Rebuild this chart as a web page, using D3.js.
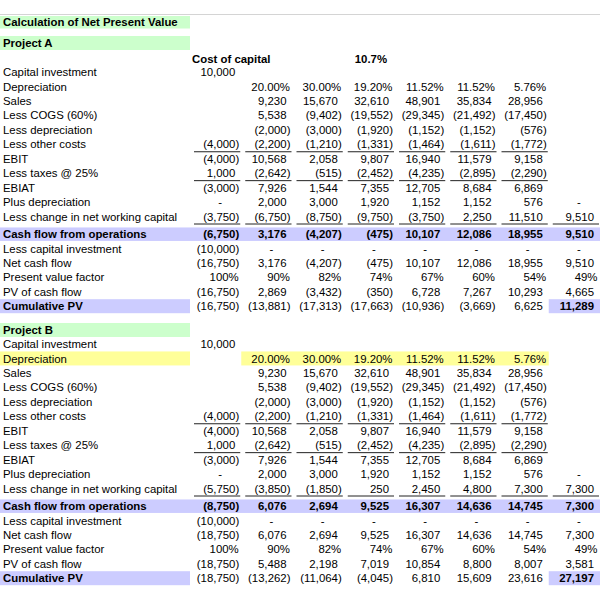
<!DOCTYPE html>
<html>
<head>
<meta charset="utf-8">
<script src="https://cdn.jsdelivr.net/npm/d3@7"></script>
<style>
  html, body { margin: 0; padding: 0; background: #fff; }
  svg text { font-family: "Liberation Sans", Arial, sans-serif; font-size: 11.4px; fill: #000; }
</style>
</head>
<body>
<div id="chart"></div>
<script>
// ---------------- DATA ----------------
const title = "Calculation of Net Present Value";
const projectNames = ["Project A", "Project B"];
const costOfCapitalLabel = "Cost of capital";
const costOfCapital = 0.107;
const columns = [0, 1, 2, 3, 4, 5, 6, 7];

const rowLabels = [
  "Capital investment", "Depreciation", "Sales", "Less COGS (60%)", "Less depreciation",
  "Less other costs", "EBIT", "Less taxes @ 25%", "EBIAT", "Plus depreciation",
  "Less change in net working capital", "Cash flow from operations", "Less capital investment",
  "Net cash flow", "Present value factor", "PV of cash flow", "Cumulative PV"
];

const capitalInvestment   = [10000, null, null, null, null, null, null, null];
const depreciationRate    = [null, 0.20, 0.30, 0.192, 0.1152, 0.1152, 0.0576, null];
const sales               = [null, 9230, 15670, 32610, 48901, 35834, 28956, null];
const lessCogs            = [null, 5538, -9402, -19552, -29345, -21492, -17450, null];
const lessDepreciation    = [null, -2000, -3000, -1920, -1152, -1152, -576, null];
const lessOtherCosts      = [-4000, -2200, -1210, -1331, -1464, -1611, -1772, null];
const ebit                = [-4000, 10568, 2058, 9807, 16940, 11579, 9158, null];
const lessTaxes           = [1000, -2642, -515, -2452, -4235, -2895, -2290, null];
const ebiat               = [-3000, 7926, 1544, 7355, 12705, 8684, 6869, null];
const plusDepreciation    = [0, 2000, 3000, 1920, 1152, 1152, 576, 0];
const lessCapitalInvest   = [-10000, 0, 0, 0, 0, 0, 0, 0];
const pvFactor            = [1.00, 0.90, 0.82, 0.74, 0.67, 0.60, 0.54, 0.49];

const changeNwcA          = [-3750, -6750, -8750, -9750, -3750, 2250, 11510, 9510];
const cashFlowOpsA        = [-6750, 3176, -4207, -475, 10107, 12086, 18955, 9510];
const netCashFlowA        = [-16750, 3176, -4207, -475, 10107, 12086, 18955, 9510];
const pvCashFlowA         = [-16750, 2869, -3432, -350, 6728, 7267, 10293, 4665];
const cumulativePvA       = [-16750, -13881, -17313, -17663, -10936, -3669, 6625, 11289];

const changeNwcB          = [-5750, -3850, -1850, 250, 2450, 4800, 7300, 7300];
const cashFlowOpsB        = [-8750, 6076, 2694, 9525, 16307, 14636, 14745, 7300];
const netCashFlowB        = [-18750, 6076, 2694, 9525, 16307, 14636, 14745, 7300];
const pvCashFlowB         = [-18750, 5488, 2198, 7019, 10854, 8800, 8007, 3581];
const cumulativePvB       = [-18750, -13262, -11064, -4045, 6810, 15609, 23616, 27197];

// row kinds: "num", "pct2", "pct0"
const rowKinds = ["num","pct2","num","num","num","num","num","num","num","num","num","num","num","num","pct0","num","num"];
const underlinedRows = [5, 7, 10];

const projectA = [capitalInvestment, depreciationRate, sales, lessCogs, lessDepreciation, lessOtherCosts,
  ebit, lessTaxes, ebiat, plusDepreciation, changeNwcA, cashFlowOpsA, lessCapitalInvest,
  netCashFlowA, pvFactor, pvCashFlowA, cumulativePvA];
const projectB = [capitalInvestment, depreciationRate, sales, lessCogs, lessDepreciation, lessOtherCosts,
  ebit, lessTaxes, ebiat, plusDepreciation, changeNwcB, cashFlowOpsB, lessCapitalInvest,
  netCashFlowB, pvFactor, pvCashFlowB, cumulativePvB];

// ---------------- LAYOUT ----------------
const W = 600, H = 593;
const GREEN = "#ccffcc", BLUE = "#ccccff", YELLOW = "#ffff99";
const svg = d3.select("#chart").append("svg").attr("width", W).attr("height", H);
svg.append("rect").attr("width", W).attr("height", H).attr("fill", "#fff");

const x = d3.scaleBand().domain(columns).range([190, 600]);
const labelRight = x.range()[0];
const rowStep = 14.45;
const rowIdx = d3.scaleLinear().domain([0, 1]).range([0, rowStep]);
const projectTop = [72, 344];
const headerY = [43, 330];
const BASE = 4.1;
function rowY(p, i) { return projectTop[p] + rowIdx(i) + (i >= 11 ? 3 : 0); }

const numFmt = d3.format(",");
function fmt(v, kind) {
  if (v == null) return null;
  if (kind === "pct2") return d3.format(".2%")(v);
  if (kind === "pct0") return d3.format(".0%")(v);
  if (v === 0) return "-";
  return v < 0 ? "(" + numFmt(-v) + ")" : numFmt(v);
}

// top gray rule
svg.append("line").attr("x1", 0).attr("x2", W).attr("y1", 14.5).attr("y2", 14.5)
  .attr("stroke", "#d4d4d4").attr("stroke-width", 1);

// title
svg.append("rect").attr("x", 0).attr("y", 16).attr("width", labelRight).attr("height", 12.5).attr("fill", GREEN);
svg.append("text").attr("x", 3).attr("y", 22.2 + BASE).attr("font-weight", "bold").text(title);

// cost of capital
svg.append("text").attr("x", x(0) + 2).attr("y", 58.5 + BASE).attr("font-weight", "bold").text(costOfCapitalLabel);
svg.append("text").attr("x", x(3) + 11).attr("y", 58.5 + BASE).attr("font-weight", "bold").text(d3.format(".1%")(costOfCapital));

[projectA, projectB].forEach((proj, p) => {
  const g = svg.append("g");
  const hy = headerY[p];
  // project header
  g.append("rect").attr("x", 0).attr("y", hy - 7).attr("width", labelRight).attr("height", 14).attr("fill", GREEN);
  g.append("text").attr("x", 3).attr("y", hy + BASE).attr("font-weight", "bold").text(projectNames[p]);

  // backgrounds
  const cfY = rowY(p, 11);
  g.append("rect").attr("x", 0).attr("y", cfY - 6.5).attr("width", W).attr("height", 13.5).attr("fill", BLUE);
  const cumY = rowY(p, 16);
  g.append("rect").attr("x", 0).attr("y", cumY - 7).attr("width", labelRight).attr("height", 14).attr("fill", BLUE);
  g.append("rect").attr("x", x(7)).attr("y", cumY - 7).attr("width", x.bandwidth()).attr("height", 14).attr("fill", BLUE);
  if (p === 1) {
    const dY = rowY(p, 1);
    g.append("rect").attr("x", 0).attr("y", dY - 7).attr("width", labelRight).attr("height", 14).attr("fill", YELLOW);
    g.append("rect").attr("x", x(1)).attr("y", dY - 7).attr("width", x(6) + x.bandwidth() - x(1)).attr("height", 14).attr("fill", YELLOW);
  }

  proj.forEach((vals, i) => {
    const y = rowY(p, i);
    const boldRow = i === 11;
    g.append("text").attr("x", 3).attr("y", y + BASE)
      .attr("font-weight", (boldRow || i === 16) ? "bold" : null)
      .text(rowLabels[i]);
    vals.forEach((v, c) => {
      const s = fmt(v, rowKinds[i]);
      if (s == null) return;
      const right = x(c) + x.bandwidth();
      let tx, anchor = "end";
      if (s === "-") { tx = right - 21; anchor = "middle"; }
      else if (rowKinds[i] !== "num") tx = right - 2.5;
      else if (v < 0) tx = right - 2;
      else tx = right - 6;
      g.append("text").attr("x", tx).attr("y", y + BASE).attr("text-anchor", anchor)
        .attr("font-weight", (boldRow || (i === 16 && c === 7)) ? "bold" : null)
        .text(s);
      if (underlinedRows.includes(i)) {
        g.append("line").attr("x1", x(c) + 4).attr("x2", right - 1)
          .attr("y1", y + 7.5).attr("y2", y + 7.5)
          .attr("stroke", "#222").attr("stroke-width", 1);
      }
    });
  });
});
</script>
</body>
</html>
